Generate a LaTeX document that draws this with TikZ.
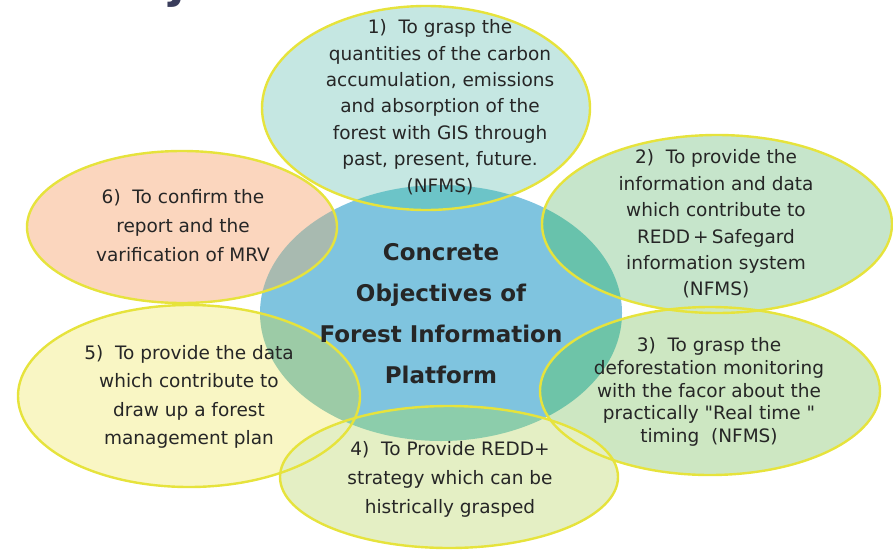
\documentclass[tikz,border=0pt]{standalone}
\usepackage{fontspec}
\setmainfont{DejaVu Sans}[Ligatures=TeXOff]
\definecolor{cblue}{HTML}{7FC4DF}
\definecolor{pA}{HTML}{C5E7E2}
\definecolor{pB}{HTML}{C6E5CB}
\definecolor{pC}{HTML}{CDE7C2}
\definecolor{pD}{HTML}{E4EFC4}
\definecolor{pE}{HTML}{F9F6C4}
\definecolor{pF}{HTML}{FBD6BE}
\definecolor{oA}{HTML}{6CC4C8}
\definecolor{oB}{HTML}{68C2AC}
\definecolor{oC}{HTML}{6EC4A8}
\definecolor{oD}{HTML}{8CCDAB}
\definecolor{oE}{HTML}{9CCBA6}
\definecolor{oF}{HTML}{A8BAB0}
\definecolor{oline}{HTML}{E6E33C}
\definecolor{txt}{HTML}{262626}
\definecolor{ttl}{HTML}{3A3D5C}
\begin{document}
\begin{tikzpicture}[x=1pt,y=-1pt,
  rim/.style={draw=oline,line width=2.4pt},
  ptext/.style={align=center,text=txt,inner sep=0pt},
  ctext/.style={align=center,text=txt,inner sep=0pt,font=\bfseries\fontsize{23}{41}\selectfont}]
\useasboundingbox (0,0) rectangle (893,549);
% title fragment
\node[anchor=base,text=ttl,inner sep=0pt,font=\bfseries\fontsize{46}{46}\selectfont] (ttl) at (177,-3) {j};
% centre
\fill[cblue] (441,313) ellipse [x radius=181,y radius=128];
% petals
\def\cen{(441,313) ellipse [x radius=181,y radius=128]}
\newcommand\petal[3]{%
  \fill[#2] #1;
  \begin{scope}\clip #1; \fill[#3] \cen; \end{scope}}
\petal{(426,108) ellipse [x radius=164,y radius=102]}{pA}{oA}
\petal{(182,227) ellipse [x radius=155,y radius=76]}{pF}{oF}
\petal{(717,224) ellipse [x radius=175,y radius=89]}{pB}{oB}
\petal{(189,396) ellipse [x radius=171,y radius=91]}{pE}{oE}
\petal{(710,391) ellipse [x radius=170,y radius=84]}{pC}{oC}
\petal{(449,477) ellipse [x radius=169,y radius=71]}{pD}{oD}
% rims
\draw[rim] (426,108) ellipse [x radius=164,y radius=102];
\draw[rim] (182,227) ellipse [x radius=155,y radius=76];
\draw[rim] (717,224) ellipse [x radius=175,y radius=89];
\draw[rim] (189,396) ellipse [x radius=171,y radius=91];
\draw[rim] (710,391) ellipse [x radius=170,y radius=84];
\draw[rim] (449,477) ellipse [x radius=169,y radius=71];
% texts
\node[ptext,font=\fontsize{18.5}{26.4}\selectfont] (t1) at (440,107)
 {1)\ \ To grasp the\\quantities of the carbon\\accumulation, emissions\\and absorption of the\\forest with GIS through\\past, present, future.\\(NFMS)};
\node[ptext,font=\fontsize{18.5}{26.4}\selectfont] (t2) at (716,224)
 {2)\ \ To provide the\\information and data\\which contribute to\\REDD\,+\,Safegard\\information system\\(NFMS)};
\node[ptext,font=\fontsize{18.5}{22.8}\selectfont] (t3) at (709,392)
 {3)\ \ To grasp the\\deforestation monitoring\\with the facor about the\\practically "Real time "\\timing\ \ (NFMS)};
\node[ptext,font=\fontsize{18.5}{29}\selectfont] (t4) at (450,479)
 {4)\ \ To Provide REDD+\\strategy which can be\\histrically grasped};
\node[ptext,font=\fontsize{18.5}{28.5}\selectfont] (t5) at (189,397)
 {5)\ \ To provide the data\\which contribute to\\draw up a forest\\management plan};
\node[ptext,font=\fontsize{18.5}{29}\selectfont] (t6) at (183,226)
 {6)\ \ To confirm the\\report and the\\varification of MRV};
\node[ctext] (c) at (441,314) {Concrete\\Objectives of\\Forest Information\\Platform};
\end{tikzpicture}
\end{document}
